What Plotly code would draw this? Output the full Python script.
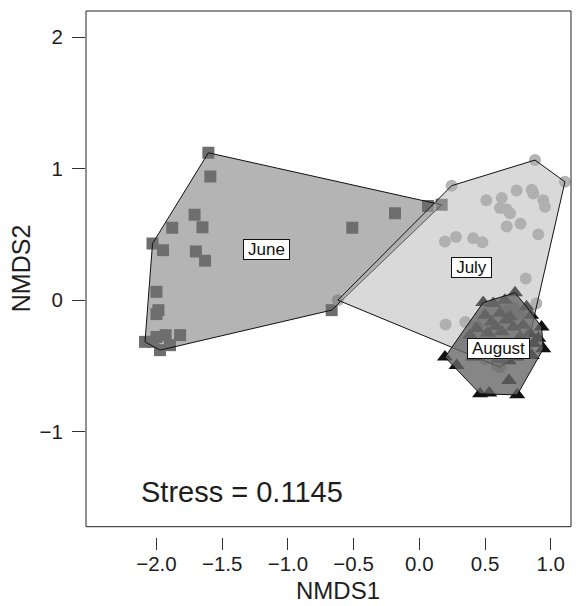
import numpy as np
import plotly.graph_objects as go

# NMDS site scores by sampling month
june_x = [-1.605, -1.59, -1.71, -1.88, -1.65, -2.03, -1.95, -1.70, -1.63, -0.51,
          -0.185, 0.066, 0.17, -2.00, -1.985, -2.00, -1.82, -2.00, -1.93, -2.087,
          -1.973, -1.897, -2.024, -0.667]
june_y = [1.12, 0.94, 0.65, 0.55, 0.555, 0.43, 0.38, 0.37, 0.30, 0.55,
          0.66, 0.716, 0.725, 0.063, -0.076, -0.106, -0.266, -0.28, -0.266, -0.317,
          -0.38, -0.342, -0.317, -0.076]

july_x = [0.88, 1.108, 0.246, 0.51, 0.627, 0.74, 0.855, 0.867, 0.943, 0.956,
          0.614, 0.665, 0.69, 0.665, 0.77, 0.905, 0.195, 0.279, 0.41, 0.48,
          0.81, 0.89, 0.20, 0.35, -0.62, 0.44, 0.665, 0.72, 0.50, 0.59,
          0.614, 0.82, 0.55, 0.45, 0.70, 0.76]
july_y = [1.065, 0.90, 0.87, 0.76, 0.776, 0.834, 0.84, 0.81, 0.76, 0.71,
          0.70, 0.69, 0.66, 0.56, 0.58, 0.50, 0.445, 0.48, 0.47, 0.44,
          0.165, -0.025, -0.185, -0.166, 0.0, -0.20, -0.076, -0.06, -0.45, -0.496,
          -0.51, -0.36, -0.30, -0.35, -0.35, -0.10]

aug_x = [0.195, 0.284, 0.462, 0.532, 0.745, 0.682, 0.93, 0.905, 0.943, 0.87,
         0.486, 0.65, 0.728, 0.563, 0.50, 0.614, 0.69, 0.55, 0.715, 0.79,
         0.85, 0.816, 0.436, 0.627, 0.766, 0.84, 0.385, 0.41, 0.74, 0.855,
         0.58, 0.66, 0.52, 0.60, 0.50, 0.68]
aug_y = [-0.433, -0.496, -0.712, -0.705, -0.72, -0.61, -0.204, -0.29, -0.37, -0.33,
         -0.018, 0.0, 0.056, -0.025, -0.115, -0.10, -0.127, -0.166, -0.204, -0.19,
         -0.115, -0.05, -0.216, -0.24, -0.28, -0.254, -0.267, -0.433, -0.433, -0.42,
         -0.20, -0.15, -0.25, -0.45, -0.42, -0.46]

months = ["June", "July", "August"]
label_x = [-1.164, 0.40, 0.60]
label_y = [0.385, 0.252, -0.37]
label_w = [43, 37, 59]

x_ticks = [-2.0, -1.5, -1.0, -0.5, 0.0, 0.5, 1.0]
y_ticks = [-1, 0, 1, 2]
stress = 0.1145

FONT = "Liberation Sans, Arial, Helvetica, sans-serif"
INK = "#1e1e1e"


def fmt(v, nd):
    s = f"{abs(v):.{nd}f}"
    return ("\u2212" + s) if v < 0 else s


def convex_hull(xs, ys):
    pts = sorted(set(zip(xs, ys)))

    def cross(o, a, b):
        return (a[0] - o[0]) * (b[1] - o[1]) - (a[1] - o[1]) * (b[0] - o[0])

    lower, upper = [], []
    for p in pts:
        while len(lower) >= 2 and cross(lower[-2], lower[-1], p) <= 0:
            lower.pop()
        lower.append(p)
    for p in reversed(pts):
        while len(upper) >= 2 and cross(upper[-2], upper[-1], p) <= 0:
            upper.pop()
        upper.append(p)
    hull = lower[:-1] + upper[:-1]
    hull.append(hull[0])
    return [p[0] for p in hull], [p[1] for p in hull]


groups = [
    (june_x, june_y, "square", "#6e6e6e", 12, "rgba(112,112,114,0.52)"),
    (july_x, july_y, "circle", "#b4b4b4", 12, "rgba(172,172,172,0.46)"),
    (aug_x, aug_y, "triangle-up", "#111111", 14, "rgba(104,104,104,0.80)"),
]

fig = go.Figure()

# points first, hulls drawn over them
for (gx, gy, sym, col, sz, _), name in zip(groups, months):
    fig.add_trace(go.Scatter(
        x=gx, y=gy, mode="markers", name=name, showlegend=False,
        marker=dict(symbol=sym, color=col, size=sz, line=dict(width=0)),
    ))

for (gx, gy, _, _, _, fillc), name in zip(groups, months):
    hx, hy = convex_hull(gx, gy)
    fig.add_trace(go.Scatter(
        x=hx, y=hy, mode="lines", fill="toself", fillcolor=fillc,
        line=dict(color="#111111", width=1), showlegend=False, hoverinfo="skip",
        name=name + " hull",
    ))

annotations = []
for name, lx, ly, w in zip(months, label_x, label_y, label_w):
    annotations.append(dict(
        x=lx, y=ly, xref="x", yref="y", text=name, showarrow=False,
        font=dict(family=FONT, size=17, color="#111111"),
        bgcolor="white", bordercolor="#111111", borderwidth=1, borderpad=1,
        width=w, height=17, align="center",
    ))

annotations.append(dict(
    x=-2.133, y=-1.459, xref="x", yref="y", xanchor="left", yanchor="middle",
    text=f"Stress = {stress}", showarrow=False,
    font=dict(family=FONT, size=29, color=INK),
))
annotations.append(dict(
    x=0.52, y=-0.102, xref="paper", yref="paper", xanchor="center", yanchor="middle",
    text="NMDS1", showarrow=False, font=dict(family=FONT, size=24, color=INK),
))
annotations.append(dict(
    x=-0.134, y=0.511, xref="paper", yref="paper", xanchor="center", yanchor="middle",
    text="NMDS2", textangle=-90, showarrow=False,
    font=dict(family=FONT, size=25, color=INK),
))

fig.update_layout(
    width=580, height=606,
    margin=dict(l=86, r=9, t=11, b=69),
    paper_bgcolor="white", plot_bgcolor="white",
    annotations=annotations,
    shapes=[dict(type="rect", xref="x domain", yref="y domain", x0=0, x1=1, y0=0, y1=1,
                 line=dict(color="#222222", width=1), layer="above")],
    xaxis=dict(
        range=[-2.536, 1.154], domain=[0, 1], anchor="free", position=0,
        tickvals=x_ticks, ticktext=[fmt(v, 1) for v in x_ticks],
        ticks="outside", ticklen=12, tickcolor="#333333", tickwidth=1,
        showline=False, showgrid=False, zeroline=False, ticklabelstandoff=-4,
        tickfont=dict(family=FONT, size=20.5, color=INK),
    ),
    yaxis=dict(
        range=[-1.722, 2.198], domain=[0.0196, 1],
        tickvals=y_ticks, ticktext=[fmt(v, 0) for v in y_ticks],
        ticks="outside", ticklen=13, tickcolor="#333333", tickwidth=1,
        showline=False, showgrid=False, zeroline=False, ticklabelstandoff=5,
        tickfont=dict(family=FONT, size=20.5, color=INK),
    ),
)

fig.write_html("out.html")
